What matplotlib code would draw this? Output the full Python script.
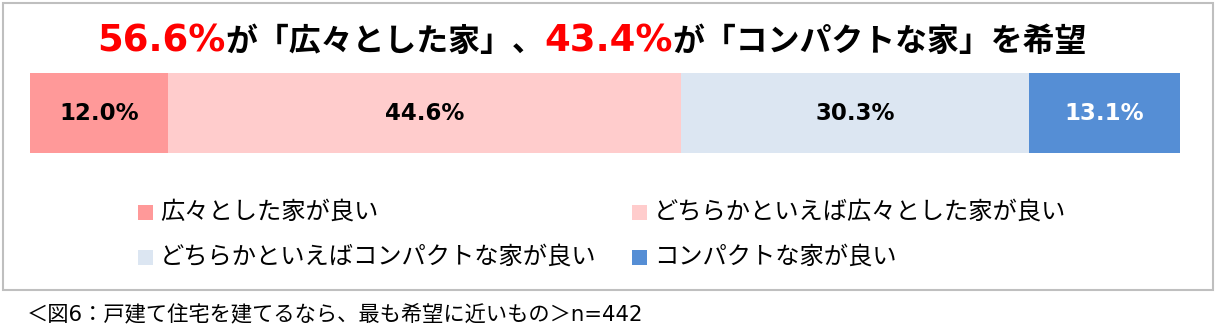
import matplotlib
matplotlib.use("Agg")
import matplotlib.pyplot as plt
from matplotlib.patches import Rectangle

plt.rcParams['font.family'] = ['DejaVu Sans', 'Noto Sans CJK JP']
JP = ['Noto Sans CJK JP', 'DejaVu Sans']
MIX = ['DejaVu Sans', 'Noto Sans CJK JP']

categories = ['広々とした家が良い', 'どちらかといえば広々とした家が良い',
              'どちらかといえばコンパクトな家が良い', 'コンパクトな家が良い']
values = [12.0, 44.6, 30.3, 13.1]
colors = ['#FF9999', '#FFCCCC', '#DCE6F2', '#558ED5']
label_colors = ['black', 'black', 'black', 'white']
title_parts = [('56.6%', 'red', 25.5, MIX), ('が「広々とした家」、', 'black', 22, JP),
               ('43.4%', 'red', 25.5, MIX), ('が「コンパクトな家」を希望', 'black', 22, JP)]
caption = '＜図6：戸建て住宅を建てるなら、最も希望に近いもの＞n=442'

W, H = 1216, 331
fig = plt.figure(figsize=(W / 100, H / 100), dpi=100)
fig.patch.set_facecolor('white')

def fx(px):
    return px / W

def fy(py):
    return 1 - py / H

# border
fig.patches.append(Rectangle((fx(3), fy(290)), fx(1213) - fx(3), fy(3) - fy(290),
                             transform=fig.transFigure, fill=False,
                             edgecolor='#BFBFBF', linewidth=1.5))

# bar
ax = fig.add_axes([fx(30), fy(153), fx(1180) - fx(30), fy(73) - fy(153)])
left = 0
for v, c, lc in zip(values, colors, label_colors):
    ax.barh(0, v, left=left, height=1.0, color=c, edgecolor='none')
    ax.text(left + v / 2, 0, f'{v:.1f}%', ha='center', va='center',
            fontsize=16.5, fontweight='bold', color=lc, family=MIX)
    left += v
ax.set_xlim(0, 100)
ax.set_ylim(-0.5, 0.5)
ax.axis('off')

# title: pieces laid out left to right, scaled to span the reference width
fig.canvas.draw()
renderer = fig.canvas.get_renderer()

def layout(scale):
    ts = []
    x = fx(97)
    for s, c, fs, fam in title_parts:
        t = fig.text(x, fy(51), s, color=c, fontsize=fs * scale, fontweight='bold',
                     ha='left', va='baseline', family=fam)
        bb = t.get_window_extent(renderer)
        x += bb.width / W
        ts.append(t)
    return ts, x

texts, xend = layout(1.0)
scale = (fx(1087) - fx(97)) / (xend - fx(97))
for t in texts:
    t.remove()
texts, xend = layout(scale)

# legend
leg_pos = [(138, 212), (632, 212), (138, 257), (632, 257)]
sq = 15
for (lx, ly), c, lab in zip(leg_pos, colors, categories):
    fig.patches.append(Rectangle((fx(lx), fy(ly + sq / 2)), sq / W, sq / H,
                                 transform=fig.transFigure, facecolor=c,
                                 edgecolor='none'))
    fig.text(fx(lx + sq + 7), fy(ly), lab, fontsize=17.5, ha='left', va='center',
             color='black', family=JP)

# caption
fig.text(fx(27), fy(314), caption, fontsize=15.3, ha='left', va='center',
         color='black', family=MIX)

fig.savefig('out.png', dpi=100)
